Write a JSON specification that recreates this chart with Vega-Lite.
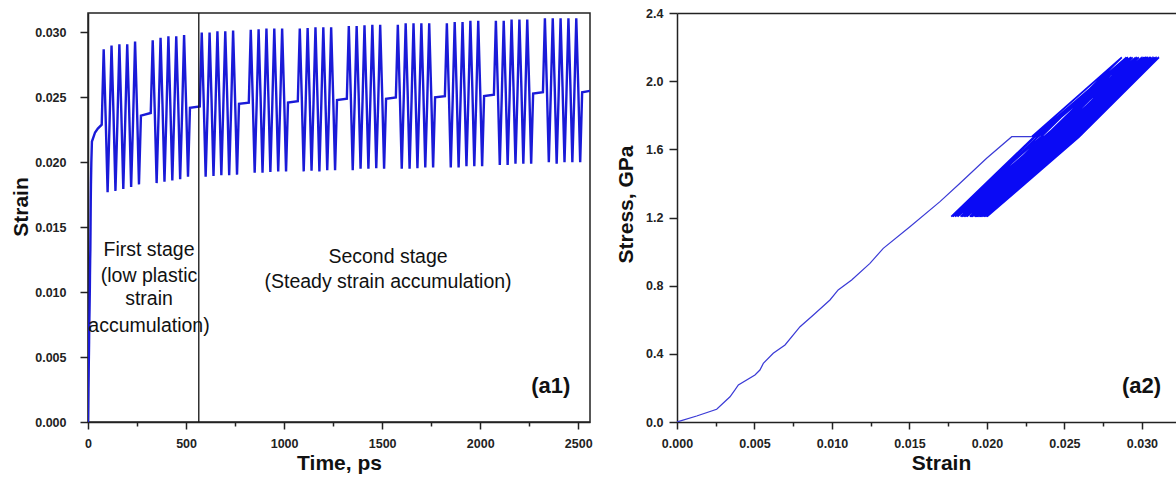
{
  "$schema": "https://vega.github.io/schema/vega-lite/v6.json",
  "background": "white",
  "padding": {"left": 9, "top": 7, "right": 0, "bottom": 0},
  "autosize": {"type": "pad"},
  "spacing": 87,
  "bounds": "flush",
  "config": {
    "view": {"stroke": null},
    "font": "Liberation Sans",
    "axis": {
      "grid": false,
      "labelFlush": false,
      "domainColor": "#222",
      "domainWidth": 1.5,
      "tickColor": "#222",
      "tickWidth": 1.5,
      "labelFont": "Liberation Sans",
      "labelFontWeight": "bold",
      "labelFontSize": 12.5,
      "labelColor": "#222",
      "titleFont": "Liberation Sans",
      "titleFontWeight": "bold",
      "titleFontSize": 21,
      "titleColor": "#111"
    }
  },
  "datasets": {
    "main": [
      {"t": 0, "strain": 0, "stress": 0},
      {"t": 1, "strain": 0.00127, "stress": 0.035},
      {"t": 2, "strain": 0.00256, "stress": 0.0745},
      {"t": 3, "strain": 0.00342, "stress": 0.148},
      {"t": 3.3, "strain": 0.00374, "stress": 0.188},
      {"t": 3.5, "strain": 0.00396, "stress": 0.217},
      {"t": 4.5, "strain": 0.00503, "stress": 0.276},
      {"t": 4.8, "strain": 0.00535, "stress": 0.305},
      {"t": 5, "strain": 0.00557, "stress": 0.344},
      {"t": 5.5, "strain": 0.00621, "stress": 0.403},
      {"t": 6, "strain": 0.00697, "stress": 0.452},
      {"t": 7, "strain": 0.00794, "stress": 0.559},
      {"t": 8, "strain": 0.0088, "stress": 0.628},
      {"t": 9, "strain": 0.00987, "stress": 0.716},
      {"t": 9.5, "strain": 0.0104, "stress": 0.775},
      {"t": 10, "strain": 0.01127, "stress": 0.833},
      {"t": 11, "strain": 0.01245, "stress": 0.931},
      {"t": 12, "strain": 0.01331, "stress": 1.019},
      {"t": 13, "strain": 0.01503, "stress": 1.146},
      {"t": 14, "strain": 0.01697, "stress": 1.293},
      {"t": 15, "strain": 0.01826, "stress": 1.401},
      {"t": 17, "strain": 0.01998, "stress": 1.548},
      {"t": 20, "strain": 0.0216, "stress": 1.674},
      {"t": 36, "strain": 0.0223, "stress": 1.674},
      {"t": 50, "strain": 0.0226, "stress": 1.674},
      {"t": 70, "strain": 0.0229, "stress": 1.674},
      {"t": 80, "strain": 0.0287, "stress": 2.14},
      {"t": 90, "strain": 0.0235, "stress": 1.674},
      {"t": 100, "strain": 0.0177, "stress": 1.205},
      {"t": 110, "strain": 0.02305, "stress": 1.674},
      {"t": 120, "strain": 0.029, "stress": 2.14},
      {"t": 130, "strain": 0.02375, "stress": 1.674},
      {"t": 140, "strain": 0.0178, "stress": 1.205},
      {"t": 150, "strain": 0.0231, "stress": 1.674},
      {"t": 160, "strain": 0.0291, "stress": 2.14},
      {"t": 170, "strain": 0.02378, "stress": 1.674},
      {"t": 180, "strain": 0.01795, "stress": 1.205},
      {"t": 190, "strain": 0.02328, "stress": 1.674},
      {"t": 200, "strain": 0.0291, "stress": 2.14},
      {"t": 210, "strain": 0.024, "stress": 1.674},
      {"t": 220, "strain": 0.0181, "stress": 1.205},
      {"t": 230, "strain": 0.0233, "stress": 1.674},
      {"t": 240, "strain": 0.0293, "stress": 2.14},
      {"t": 250, "strain": 0.0241, "stress": 1.674},
      {"t": 260, "strain": 0.0183, "stress": 1.205},
      {"t": 270, "strain": 0.0236, "stress": 1.674},
      {"t": 320, "strain": 0.0238, "stress": 1.674},
      {"t": 330, "strain": 0.0294, "stress": 2.14},
      {"t": 340, "strain": 0.0242, "stress": 1.674},
      {"t": 350, "strain": 0.0184, "stress": 1.205},
      {"t": 360, "strain": 0.0237, "stress": 1.674},
      {"t": 370, "strain": 0.0296, "stress": 2.14},
      {"t": 380, "strain": 0.0244, "stress": 1.674},
      {"t": 390, "strain": 0.0185, "stress": 1.205},
      {"t": 400, "strain": 0.02375, "stress": 1.674},
      {"t": 410, "strain": 0.0297, "stress": 2.14},
      {"t": 420, "strain": 0.0244, "stress": 1.674},
      {"t": 430, "strain": 0.0186, "stress": 1.205},
      {"t": 440, "strain": 0.0239, "stress": 1.674},
      {"t": 450, "strain": 0.0297, "stress": 2.14},
      {"t": 460, "strain": 0.0246, "stress": 1.674},
      {"t": 470, "strain": 0.0187, "stress": 1.205},
      {"t": 480, "strain": 0.02385, "stress": 1.674},
      {"t": 490, "strain": 0.0298, "stress": 2.14},
      {"t": 500, "strain": 0.02465, "stress": 1.674},
      {"t": 510, "strain": 0.0189, "stress": 1.205},
      {"t": 520, "strain": 0.0242, "stress": 1.674},
      {"t": 570, "strain": 0.0243, "stress": 1.674},
      {"t": 580, "strain": 0.03, "stress": 2.14},
      {"t": 590, "strain": 0.02475, "stress": 1.674},
      {"t": 600, "strain": 0.0189, "stress": 1.205},
      {"t": 610, "strain": 0.02415, "stress": 1.674},
      {"t": 620, "strain": 0.03, "stress": 2.14},
      {"t": 630, "strain": 0.02483, "stress": 1.674},
      {"t": 640, "strain": 0.01895, "stress": 1.205},
      {"t": 650, "strain": 0.02418, "stress": 1.674},
      {"t": 660, "strain": 0.0301, "stress": 2.14},
      {"t": 670, "strain": 0.0248, "stress": 1.674},
      {"t": 680, "strain": 0.019, "stress": 1.205},
      {"t": 690, "strain": 0.0243, "stress": 1.674},
      {"t": 700, "strain": 0.0301, "stress": 2.14},
      {"t": 710, "strain": 0.02495, "stress": 1.674},
      {"t": 720, "strain": 0.019, "stress": 1.205},
      {"t": 730, "strain": 0.02418, "stress": 1.674},
      {"t": 740, "strain": 0.03015, "stress": 2.14},
      {"t": 750, "strain": 0.0249, "stress": 1.674},
      {"t": 760, "strain": 0.01905, "stress": 1.205},
      {"t": 770, "strain": 0.0245, "stress": 1.674},
      {"t": 820, "strain": 0.0246, "stress": 1.674},
      {"t": 830, "strain": 0.0302, "stress": 2.14},
      {"t": 840, "strain": 0.025, "stress": 1.674},
      {"t": 850, "strain": 0.0192, "stress": 1.205},
      {"t": 860, "strain": 0.02443, "stress": 1.674},
      {"t": 870, "strain": 0.03025, "stress": 2.14},
      {"t": 880, "strain": 0.02508, "stress": 1.674},
      {"t": 890, "strain": 0.0192, "stress": 1.205},
      {"t": 900, "strain": 0.0244, "stress": 1.674},
      {"t": 910, "strain": 0.0303, "stress": 2.14},
      {"t": 920, "strain": 0.02503, "stress": 1.674},
      {"t": 930, "strain": 0.01925, "stress": 1.205},
      {"t": 940, "strain": 0.02453, "stress": 1.674},
      {"t": 950, "strain": 0.0303, "stress": 2.14},
      {"t": 960, "strain": 0.0252, "stress": 1.674},
      {"t": 970, "strain": 0.0193, "stress": 1.205},
      {"t": 980, "strain": 0.0244, "stress": 1.674},
      {"t": 990, "strain": 0.0303, "stress": 2.14},
      {"t": 1000, "strain": 0.0251, "stress": 1.674},
      {"t": 1010, "strain": 0.0193, "stress": 1.205},
      {"t": 1020, "strain": 0.0246, "stress": 1.674},
      {"t": 1070, "strain": 0.0247, "stress": 1.674},
      {"t": 1080, "strain": 0.0303, "stress": 2.14},
      {"t": 1090, "strain": 0.0251, "stress": 1.674},
      {"t": 1100, "strain": 0.0193, "stress": 1.205},
      {"t": 1110, "strain": 0.02453, "stress": 1.674},
      {"t": 1120, "strain": 0.03035, "stress": 2.14},
      {"t": 1130, "strain": 0.0252, "stress": 1.674},
      {"t": 1140, "strain": 0.01935, "stress": 1.205},
      {"t": 1150, "strain": 0.02453, "stress": 1.674},
      {"t": 1160, "strain": 0.0304, "stress": 2.14},
      {"t": 1170, "strain": 0.0251, "stress": 1.674},
      {"t": 1180, "strain": 0.0193, "stress": 1.205},
      {"t": 1190, "strain": 0.0246, "stress": 1.674},
      {"t": 1200, "strain": 0.0304, "stress": 2.14},
      {"t": 1210, "strain": 0.0253, "stress": 1.674},
      {"t": 1220, "strain": 0.0194, "stress": 1.205},
      {"t": 1230, "strain": 0.0245, "stress": 1.674},
      {"t": 1240, "strain": 0.0304, "stress": 2.14},
      {"t": 1250, "strain": 0.0252, "stress": 1.674},
      {"t": 1260, "strain": 0.0194, "stress": 1.205},
      {"t": 1270, "strain": 0.0248, "stress": 1.674},
      {"t": 1320, "strain": 0.0249, "stress": 1.674},
      {"t": 1330, "strain": 0.0305, "stress": 2.14},
      {"t": 1340, "strain": 0.02525, "stress": 1.674},
      {"t": 1350, "strain": 0.0194, "stress": 1.205},
      {"t": 1360, "strain": 0.02465, "stress": 1.674},
      {"t": 1370, "strain": 0.0305, "stress": 2.14},
      {"t": 1380, "strain": 0.02535, "stress": 1.674},
      {"t": 1390, "strain": 0.0195, "stress": 1.205},
      {"t": 1400, "strain": 0.02468, "stress": 1.674},
      {"t": 1410, "strain": 0.03055, "stress": 2.14},
      {"t": 1420, "strain": 0.02528, "stress": 1.674},
      {"t": 1430, "strain": 0.0195, "stress": 1.205},
      {"t": 1440, "strain": 0.0248, "stress": 1.674},
      {"t": 1450, "strain": 0.0306, "stress": 2.14},
      {"t": 1460, "strain": 0.02548, "stress": 1.674},
      {"t": 1470, "strain": 0.01955, "stress": 1.205},
      {"t": 1480, "strain": 0.02468, "stress": 1.674},
      {"t": 1490, "strain": 0.0306, "stress": 2.14},
      {"t": 1500, "strain": 0.02535, "stress": 1.674},
      {"t": 1510, "strain": 0.0195, "stress": 1.205},
      {"t": 1520, "strain": 0.0249, "stress": 1.674},
      {"t": 1570, "strain": 0.025, "stress": 1.674},
      {"t": 1580, "strain": 0.0306, "stress": 2.14},
      {"t": 1590, "strain": 0.02535, "stress": 1.674},
      {"t": 1600, "strain": 0.0195, "stress": 1.205},
      {"t": 1610, "strain": 0.0248, "stress": 1.674},
      {"t": 1620, "strain": 0.0307, "stress": 2.14},
      {"t": 1630, "strain": 0.02545, "stress": 1.674},
      {"t": 1640, "strain": 0.0195, "stress": 1.205},
      {"t": 1650, "strain": 0.02475, "stress": 1.674},
      {"t": 1660, "strain": 0.0307, "stress": 2.14},
      {"t": 1670, "strain": 0.02538, "stress": 1.674},
      {"t": 1680, "strain": 0.01955, "stress": 1.205},
      {"t": 1690, "strain": 0.02488, "stress": 1.674},
      {"t": 1700, "strain": 0.0307, "stress": 2.14},
      {"t": 1710, "strain": 0.02555, "stress": 1.674},
      {"t": 1720, "strain": 0.0196, "stress": 1.205},
      {"t": 1730, "strain": 0.02475, "stress": 1.674},
      {"t": 1740, "strain": 0.0307, "stress": 2.14},
      {"t": 1750, "strain": 0.02545, "stress": 1.674},
      {"t": 1760, "strain": 0.0196, "stress": 1.205},
      {"t": 1770, "strain": 0.025, "stress": 1.674},
      {"t": 1820, "strain": 0.0251, "stress": 1.674},
      {"t": 1830, "strain": 0.0307, "stress": 2.14},
      {"t": 1840, "strain": 0.02545, "stress": 1.674},
      {"t": 1850, "strain": 0.0196, "stress": 1.205},
      {"t": 1860, "strain": 0.0249, "stress": 1.674},
      {"t": 1870, "strain": 0.0308, "stress": 2.14},
      {"t": 1880, "strain": 0.02555, "stress": 1.674},
      {"t": 1890, "strain": 0.0196, "stress": 1.205},
      {"t": 1900, "strain": 0.02485, "stress": 1.674},
      {"t": 1910, "strain": 0.0308, "stress": 2.14},
      {"t": 1920, "strain": 0.0255, "stress": 1.674},
      {"t": 1930, "strain": 0.0197, "stress": 1.205},
      {"t": 1940, "strain": 0.02505, "stress": 1.674},
      {"t": 1950, "strain": 0.0309, "stress": 2.14},
      {"t": 1960, "strain": 0.0257, "stress": 1.674},
      {"t": 1970, "strain": 0.0197, "stress": 1.205},
      {"t": 1980, "strain": 0.0249, "stress": 1.674},
      {"t": 1990, "strain": 0.0309, "stress": 2.14},
      {"t": 2000, "strain": 0.0256, "stress": 1.674},
      {"t": 2010, "strain": 0.0197, "stress": 1.205},
      {"t": 2020, "strain": 0.0251, "stress": 1.674},
      {"t": 2070, "strain": 0.0252, "stress": 1.674},
      {"t": 2080, "strain": 0.0309, "stress": 2.14},
      {"t": 2090, "strain": 0.02565, "stress": 1.674},
      {"t": 2100, "strain": 0.0198, "stress": 1.205},
      {"t": 2110, "strain": 0.02505, "stress": 1.674},
      {"t": 2120, "strain": 0.0309, "stress": 2.14},
      {"t": 2130, "strain": 0.0257, "stress": 1.674},
      {"t": 2140, "strain": 0.0198, "stress": 1.205},
      {"t": 2150, "strain": 0.02505, "stress": 1.674},
      {"t": 2160, "strain": 0.031, "stress": 2.14},
      {"t": 2170, "strain": 0.0257, "stress": 1.674},
      {"t": 2180, "strain": 0.0199, "stress": 1.205},
      {"t": 2190, "strain": 0.0252, "stress": 1.674},
      {"t": 2200, "strain": 0.031, "stress": 2.14},
      {"t": 2210, "strain": 0.02585, "stress": 1.674},
      {"t": 2220, "strain": 0.0199, "stress": 1.205},
      {"t": 2230, "strain": 0.02505, "stress": 1.674},
      {"t": 2240, "strain": 0.031, "stress": 2.14},
      {"t": 2250, "strain": 0.02575, "stress": 1.674},
      {"t": 2260, "strain": 0.0199, "stress": 1.205},
      {"t": 2270, "strain": 0.0253, "stress": 1.674},
      {"t": 2320, "strain": 0.0254, "stress": 1.674},
      {"t": 2330, "strain": 0.0311, "stress": 2.14},
      {"t": 2340, "strain": 0.02585, "stress": 1.674},
      {"t": 2350, "strain": 0.02, "stress": 1.205},
      {"t": 2360, "strain": 0.02525, "stress": 1.674},
      {"t": 2370, "strain": 0.0311, "stress": 2.14},
      {"t": 2380, "strain": 0.02585, "stress": 1.674},
      {"t": 2390, "strain": 0.0199, "stress": 1.205},
      {"t": 2400, "strain": 0.02515, "stress": 1.674},
      {"t": 2410, "strain": 0.0311, "stress": 2.14},
      {"t": 2420, "strain": 0.0258, "stress": 1.674},
      {"t": 2430, "strain": 0.02, "stress": 1.205},
      {"t": 2440, "strain": 0.0253, "stress": 1.674},
      {"t": 2450, "strain": 0.0311, "stress": 2.14},
      {"t": 2460, "strain": 0.02595, "stress": 1.674},
      {"t": 2470, "strain": 0.02, "stress": 1.205},
      {"t": 2480, "strain": 0.02515, "stress": 1.674},
      {"t": 2490, "strain": 0.0311, "stress": 2.14},
      {"t": 2500, "strain": 0.02585, "stress": 1.674},
      {"t": 2510, "strain": 0.02, "stress": 1.205},
      {"t": 2520, "strain": 0.0254, "stress": 1.674},
      {"t": 2560, "strain": 0.0255, "stress": 1.674}
    ]
  },
  "hconcat": [
    {
      "width": 502,
      "height": 409,
      "view": {"stroke": "#222", "strokeWidth": 1.5},
      "layer": [
        {
          "data": {"name": "main"},
          "mark": {"type": "line", "color": "#1a1ad8", "strokeWidth": 2.4, "clip": true},
          "encoding": {
            "x": {
              "field": "t", "type": "quantitative",
              "scale": {"domain": [0, 2560], "nice": false, "zero": false},
              "axis": {
                "title": "Time, ps",
                "values": [0, 250, 500, 750, 1000, 1250, 1500, 1750, 2000, 2250, 2500],
                "format": "d",
                "labelExpr": "datum.value % 500 === 0 ? datum.label : ''",
                "tickSize": {"condition": {"test": "datum.value % 500 === 0", "value": 7}, "value": 4},
                "labelPadding": 8,
                "titlePadding": 3
              }
            },
            "y": {
              "field": "strain", "type": "quantitative",
              "scale": {"domain": [0, 0.0315], "nice": false, "zero": false},
              "axis": {
                "title": "Strain",
                "titleY": 193.5,
                "values": [0, 0.0025, 0.005, 0.0075, 0.01, 0.0125, 0.015, 0.0175, 0.02, 0.0225, 0.025, 0.0275, 0.03],
                "format": ".3f",
                "labelExpr": "round(datum.value / 0.0025) % 2 === 0 ? datum.label : ''",
                "tickSize": {"condition": {"test": "round(datum.value / 0.0025) % 2 === 0", "value": 8}, "value": 5},
                "labelPadding": 14,
                "titlePadding": 3
              }
            }
          }
        },
        {
          "data": {"values": [{"t": 565}]},
          "mark": {"type": "rule", "color": "#111", "strokeWidth": 1.3},
          "encoding": {"x": {"field": "t", "type": "quantitative"}}
        },
        {
          "data": {"values": [
            {"t": 311, "strain": 0.01327, "label": "First stage"},
            {"t": 311, "strain": 0.01125, "label": "(low plastic"},
            {"t": 311, "strain": 0.00946, "label": "strain"},
            {"t": 311, "strain": 0.00741, "label": "accumulation)"},
            {"t": 1530, "strain": 0.01272, "label": "Second stage"},
            {"t": 1530, "strain": 0.0108, "label": "(Steady strain accumulation)"}
          ]},
          "mark": {"type": "text", "font": "Liberation Sans", "fontSize": 19.5, "color": "#111", "align": "center", "baseline": "middle"},
          "encoding": {
            "x": {"field": "t", "type": "quantitative"},
            "y": {"field": "strain", "type": "quantitative"},
            "text": {"field": "label", "type": "nominal"}
          }
        },
        {
          "data": {"values": [{"t": 2360, "strain": 0.00277, "label": "(a1)"}]},
          "mark": {"type": "text", "font": "Liberation Sans", "fontSize": 22, "fontWeight": "bold", "color": "#111", "align": "center", "baseline": "middle"},
          "encoding": {
            "x": {"field": "t", "type": "quantitative"},
            "y": {"field": "strain", "type": "quantitative"},
            "text": {"field": "label", "type": "nominal"}
          }
        }
      ]
    },
    {
      "width": 499,
      "height": 409,
      "resolve": {"axis": {"x": "independent"}},
      "layer": [
        {
          "data": {"name": "main"},
          "transform": [{"filter": "datum.t <= 70"}],
          "mark": {"type": "line", "color": "#3a3ad6", "strokeWidth": 1.2, "clip": true},
          "encoding": {
            "x": {
              "field": "strain", "type": "quantitative",
              "scale": {"domain": [0, 0.0322], "nice": false, "zero": false},
              "axis": {
                "title": "Strain",
                "titleX": 264,
                "values": [0, 0.0025, 0.005, 0.0075, 0.01, 0.0125, 0.015, 0.0175, 0.02, 0.0225, 0.025, 0.0275, 0.03],
                "format": ".3f",
                "labelExpr": "round(datum.value / 0.0025) % 2 === 0 ? datum.label : ''",
                "tickSize": {"condition": {"test": "round(datum.value / 0.0025) % 2 === 0", "value": 7}, "value": 4},
                "labelPadding": 8,
                "titlePadding": 3
              }
            },
            "y": {
              "field": "stress", "type": "quantitative",
              "scale": {"domain": [0, 2.4], "nice": false, "zero": false},
              "axis": {
                "title": "Stress, GPa",
                "titleY": 191,
                "values": [0, 0.2, 0.4, 0.6, 0.8, 1.0, 1.2, 1.4, 1.6, 1.8, 2.0, 2.2, 2.4],
                "format": ".1f",
                "labelExpr": "round(datum.value / 0.2) % 2 === 0 ? datum.label : ''",
                "tickSize": {"condition": {"test": "round(datum.value / 0.2) % 2 === 0", "value": 8}, "value": 5},
                "labelPadding": 6,
                "titlePadding": 9
              }
            },
            "order": {"field": "t", "type": "quantitative"}
          }
        },
        {
          "data": {"name": "main"},
          "transform": [{"filter": "datum.t >= 70"}],
          "mark": {"type": "line", "color": "#0a0af5", "strokeWidth": 1.8, "clip": true},
          "encoding": {
            "x": {"field": "strain", "type": "quantitative", "axis": null},
            "y": {"field": "stress", "type": "quantitative"},
            "order": {"field": "t", "type": "quantitative"}
          }
        },
        {
          "data": {"values": [{"strain": 0.02998, "stress": 0.211, "label": "(a2)"}]},
          "mark": {"type": "text", "font": "Liberation Sans", "fontSize": 22, "fontWeight": "bold", "color": "#111", "align": "center", "baseline": "middle"},
          "encoding": {
            "x": {
              "field": "strain", "type": "quantitative",
              "axis": {"orient": "top", "labels": false, "ticks": false, "title": null, "domain": true}
            },
            "y": {"field": "stress", "type": "quantitative"},
            "text": {"field": "label", "type": "nominal"}
          }
        }
      ]
    }
  ]
}
